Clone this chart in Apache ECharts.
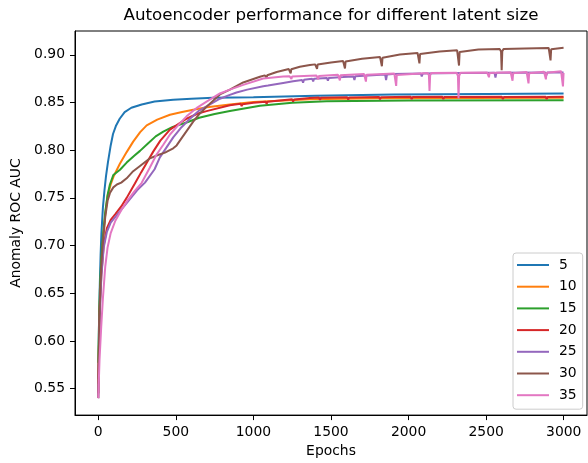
<!DOCTYPE html>
<html>
<head>
<meta charset="utf-8">
<script src="https://cdn.jsdelivr.net/npm/echarts@6/dist/echarts.min.js"></script>
<style>
  html, body { margin: 0; padding: 0; background: #fff; }
  #chart { width: 588px; height: 463px; }
</style>
</head>
<body>
<div id="chart"></div>
<script>
// Latent sizes shown in the legend
const latentSizes = ['5', '10', '15', '20', '25', '30', '35'];
const lineColors = ['#1f77b4', '#ff7f0e', '#2ca02c', '#d62728', '#9467bd', '#8c564b', '#e377c2'];

// Tick labels
const xTicks = [0, 500, 1000, 1500, 2000, 2500, 3000];
const yTicks = [0.55, 0.60, 0.65, 0.70, 0.75, 0.80, 0.85, 0.90];

// [epoch, ROC AUC] per latent size
const auc5 = [
  [0,0.56],[5,0.62],[10,0.66],[15,0.69],[20,0.712],[30,0.74],[40,0.758],[50,0.773],
  [62,0.787],[80,0.805],[95,0.817],[115,0.826],[138,0.833],[170,0.840],[213,0.8445],
  [280,0.848],[363,0.851],[483,0.853],[600,0.854],[740,0.855],[1000,0.8556],
  [1400,0.857],[1900,0.8583],[2500,0.859],[2999,0.8595]
];
const auc10 = [
  [0,0.555],[5,0.605],[10,0.64],[20,0.68],[30,0.705],[45,0.733],[60,0.752],[80,0.764],
  [100,0.773],[140,0.786],[183,0.798],[225,0.809],[270,0.819],[312,0.826],[380,0.832],
  [462,0.8372],[540,0.840],[612,0.8425],[700,0.845],[848,0.848],[1000,0.8505],
  [1364,0.8535],[1800,0.8545],[2400,0.8548],[2999,0.855]
];
const auc15 = [
  [0,0.577],[5,0.62],[10,0.652],[20,0.688],[30,0.71],[45,0.735],[60,0.753],[75,0.764],
  [97,0.774],[140,0.7795],[183,0.787],[230,0.794],[269,0.7993],[320,0.807],[370,0.8145],
  [419,0.8195],[480,0.8245],[569,0.829],[650,0.834],[750,0.838],[848,0.841],
  [1042,0.8465],[1250,0.8497],[1471,0.8512],[2000,0.852],[2999,0.8524]
];
const auc20 = [
  [0,0.545],[5,0.60],[10,0.635],[20,0.67],[35,0.70],[55,0.718],[80,0.727],[110,0.733],
  [148,0.741],[183,0.75],[213,0.7585],[236,0.765],[277,0.777],[320,0.789],[354,0.7985],
  [400,0.81],[462,0.8215],[535,0.8295],[569,0.833],[642,0.8385],[698,0.841],[848,0.8472],
  [918,0.8486],[924,0.8462],[930,0.8483],[1000,0.8498],
  [1079,0.8509],[1085,0.8485],[1091,0.8507],
  [1250,0.8534],[1256,0.851],[1262,0.8532],[1364,0.8548],
  [1423,0.8552],[1429,0.8527],[1435,0.855],
  [1605,0.8555],[1611,0.853],[1617,0.8553],
  [1810,0.8558],[1816,0.8533],[1822,0.8556],
  [2014,0.856],[2020,0.8535],[2026,0.8558],
  [2218,0.856],[2224,0.8535],[2230,0.8558],
  [2602,0.856],[2608,0.8535],[2614,0.8558],
  [2884,0.856],[2890,0.8535],[2896,0.8558],[2999,0.856]
];
const auc25 = [
  [0,0.54],[5,0.59],[10,0.628],[20,0.668],[35,0.698],[55,0.714],[80,0.724],[110,0.73],
  [150,0.738],[200,0.748],[250,0.758],[301,0.766],[363,0.78],[397,0.7925],[440,0.803],
  [483,0.8135],[530,0.823],[591,0.833],[650,0.8415],[720,0.848],[784,0.854],[848,0.858],
  [891,0.8605],[960,0.8635],[1063,0.867],
  [1094,0.8678],[1100,0.8658],[1106,0.8679],[1192,0.8705],[1256,0.8722],
  [1314,0.8736],[1320,0.8707],[1326,0.8738],
  [1379,0.8749],[1385,0.872],[1391,0.875],
  [1474,0.8757],[1480,0.8728],[1486,0.8758],[1578,0.8767],
  [1645,0.8774],[1651,0.8735],[1657,0.8776],
  [1849,0.8794],[1855,0.8735],[1861,0.8795],[1900,0.8799],
  [2079,0.8803],[2085,0.8773],[2091,0.8803],[2330,0.881],
  [2554,0.8812],[2560,0.8762],[2566,0.8812],
  [2882,0.8815],[2888,0.8785],[2894,0.8815],[2999,0.8816]
];
const auc30 = [
  [0,0.54],[5,0.60],[10,0.64],[20,0.68],[30,0.705],[45,0.73],[60,0.747],[75,0.755],
  [97,0.761],[120,0.764],[148,0.766],[183,0.7705],[225,0.778],[269,0.7835],[333,0.7915],
  [385,0.795],[430,0.7975],[483,0.802],[505,0.805],[526,0.81],[569,0.82],[612,0.83],
  [655,0.8385],[707,0.847],[784,0.8585],[848,0.8635],[934,0.871],[1042,0.877],
  [1073,0.8785],[1081,0.8784],[1085,0.876],[1089,0.8786],[1097,0.8792],[1150,0.882],
  [1228,0.8851],[1236,0.8848],[1240,0.8805],[1244,0.8849],[1252,0.8858],
  [1299,0.8875],[1364,0.8893],
  [1398,0.8900],[1406,0.8897],[1410,0.8853],[1414,0.8898],[1422,0.8905],[1500,0.892],
  [1578,0.8935],[1586,0.8927],[1590,0.8857],[1594,0.8929],[1602,0.8939],[1700,0.8958],
  [1816,0.8978],[1824,0.8968],[1828,0.888],[1832,0.897],[1840,0.8982],[1944,0.9003],
  [2058,0.9019],[2066,0.9007],[2070,0.891],[2074,0.9009],[2082,0.9021],[2200,0.9035],
  [2313,0.9047],[2321,0.9029],[2325,0.8888],[2329,0.9031],[2337,0.9049],[2450,0.9055],
  [2588,0.906],[2596,0.9035],[2600,0.884],[2604,0.9037],[2612,0.9061],[2750,0.9067],
  [2903,0.9072],[2911,0.9057],[2915,0.8942],[2919,0.9059],[2927,0.9072],[2999,0.9075]
];
const auc35 = [
  [0,0.54],[8,0.58],[19,0.615],[30,0.645],[45,0.678],[60,0.698],[80,0.713],[110,0.726],
  [148,0.737],[191,0.748],[234,0.757],[279,0.7655],[330,0.781],[376,0.7955],[420,0.806],
  [462,0.8165],[520,0.827],[569,0.8355],[640,0.845],[698,0.851],[784,0.8595],[848,0.8635],
  [934,0.8685],[1063,0.8752],[1192,0.8772],
  [1233,0.8776],[1241,0.8773],[1245,0.8747],[1249,0.8773],[1257,0.8777],[1364,0.8781],
  [1406,0.8783],[1414,0.8778],[1418,0.8743],[1422,0.8778],[1430,0.8783],
  [1545,0.8791],[1553,0.8785],[1557,0.8732],[1561,0.8785],[1569,0.8792],
  [1713,0.8799],[1721,0.879],[1725,0.872],[1729,0.879],[1737,0.880],
  [1908,0.8805],[1916,0.8789],[1920,0.8675],[1924,0.8789],[1932,0.8805],
  [2123,0.881],[2131,0.8787],[2135,0.862],[2139,0.8787],[2147,0.881],
  [2310,0.8812],[2318,0.878],[2322,0.8542],[2326,0.878],[2334,0.8812],
  [2506,0.8815],[2514,0.8809],[2518,0.8765],[2522,0.8809],[2530,0.8815],
  [2658,0.8818],[2666,0.8807],[2670,0.8728],[2674,0.8807],[2682,0.8818],
  [2761,0.882],[2769,0.8806],[2773,0.870],[2777,0.8806],[2785,0.882],
  [2873,0.8823],[2881,0.8813],[2885,0.8743],[2889,0.8813],[2897,0.8823],
  [2983,0.8828],[2991,0.8809],[2995,0.8668],[2999,0.881]
];

const aucSeries = [auc5, auc10, auc15, auc20, auc25, auc30, auc35];

const FONT = 'DejaVu Sans';
const chart = echarts.init(document.getElementById('chart'), null, { renderer: 'canvas' });

chart.setOption({
  animation: false,
  backgroundColor: '#ffffff',
  title: {
    text: 'Autoencoder performance for different latent size',
    left: 331,
    top: 7,
    padding: 0,
    textAlign: 'center',
    textStyle: { fontFamily: FONT, fontSize: 16.7, fontWeight: 'normal', color: '#000' }
  },
  grid: {
    left: 75, top: 31, width: 512, height: 387,
    show: true, borderColor: '#000', borderWidth: 1, backgroundColor: 'transparent'
  },
  legend: {
    orient: 'vertical',
    left: 513, top: 253,
    padding: [5, 6, 7, 4],
    icon: 'rect',
    itemWidth: 32, itemHeight: 2, itemGap: 7.7,
    backgroundColor: 'rgba(255,255,255,0.8)',
    borderColor: '#cccccc', borderWidth: 1, borderRadius: 3,
    textStyle: { fontFamily: FONT, fontSize: 13.9, color: '#000', lineHeight: 14, padding: [0, 0, 0, 5] },
    data: latentSizes
  },
  xAxis: {
    type: 'value',
    min: -150, max: 3150,
    name: 'Epochs', nameLocation: 'middle', nameGap: 22,
    nameTextStyle: { fontFamily: FONT, fontSize: 13.9, color: '#000', verticalAlign: 'top' },
    axisLine: { show: true, onZero: false, lineStyle: { color: '#000', width: 1 } },
    axisTick: { show: true, length: 5, inside: false, customValues: xTicks, lineStyle: { color: '#000', width: 1 } },
    axisLabel: {
      customValues: xTicks, margin: 10, fontFamily: FONT, fontSize: 13.9, color: '#000',
      formatter: v => String(v)
    },
    splitLine: { show: false }
  },
  yAxis: {
    type: 'value',
    min: 0.5222, max: 0.925,
    name: 'Anomaly ROC AUC', nameLocation: 'middle', nameGap: 51,
    nameTextStyle: { fontFamily: FONT, fontSize: 13.9, color: '#000' },
    axisLine: { show: true, onZero: false, lineStyle: { color: '#000', width: 1 } },
    axisTick: { show: true, length: 5, inside: false, customValues: yTicks, lineStyle: { color: '#000', width: 1 } },
    axisLabel: {
      customValues: yTicks, margin: 10, fontFamily: FONT, fontSize: 13.9, color: '#000',
      formatter: v => v.toFixed(2)
    },
    splitLine: { show: false }
  },
  series: latentSizes.map((name, i) => ({
    name: name,
    type: 'line',
    data: aucSeries[i],
    symbol: 'none',
    smooth: false,
    clip: true,
    color: lineColors[i],
    lineStyle: { width: 2, color: lineColors[i] },
    emphasis: { disabled: true }
  }))
});
</script>
</body>
</html>
